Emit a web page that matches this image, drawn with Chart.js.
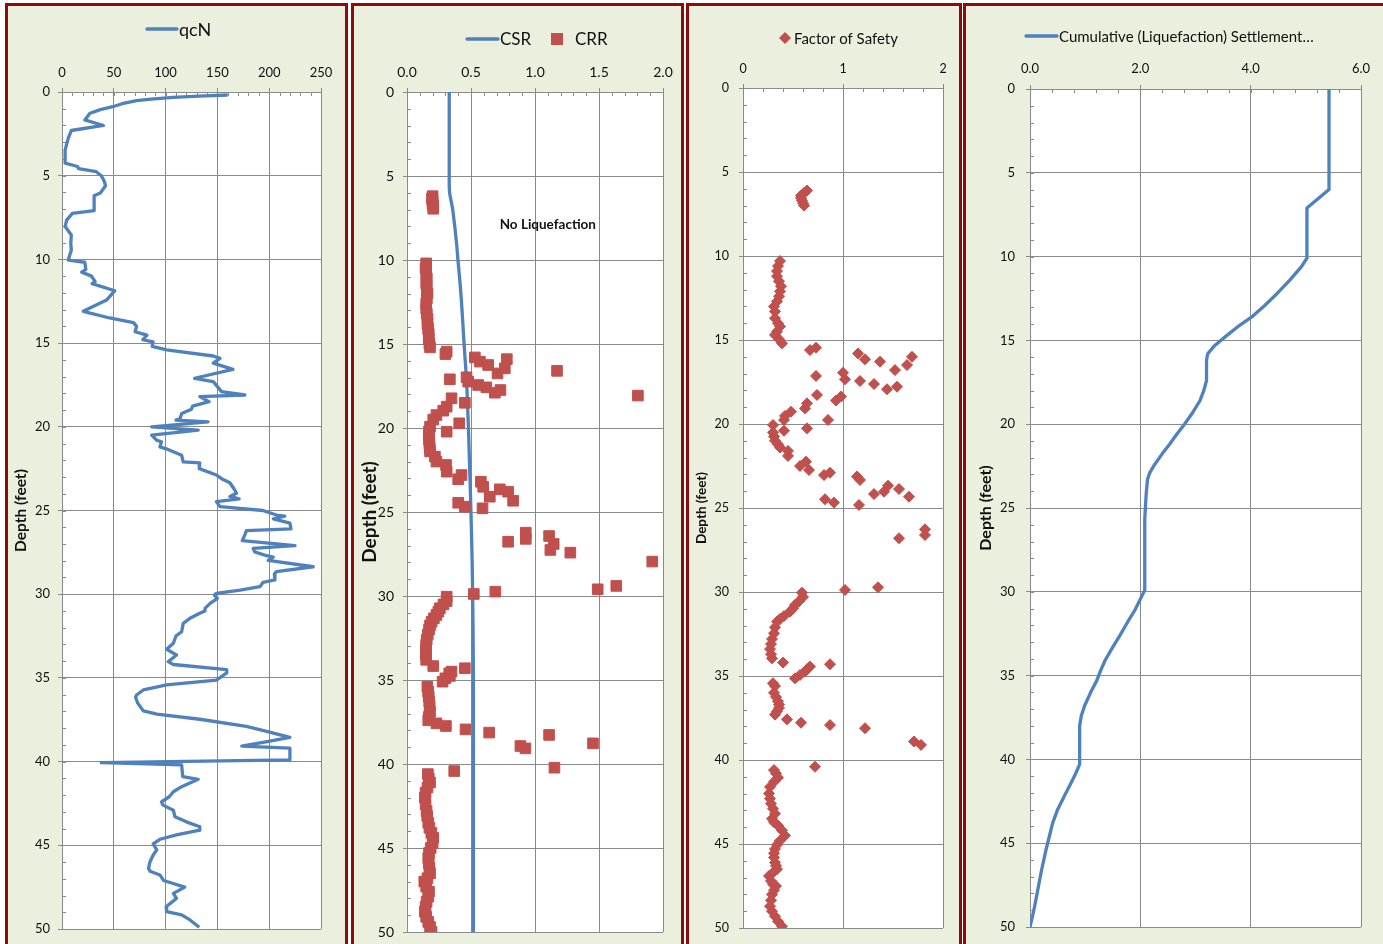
<!DOCTYPE html>
<html>
<head>
<meta charset="utf-8">
<title>CPT Liquefaction Analysis</title>
<script src="https://cdn.jsdelivr.net/npm/chart.js@4.4.0/dist/chart.umd.min.js"></script>
<style>
  html, body { margin: 0; padding: 0; background: #ffffff; width: 1383px; height: 944px; overflow: hidden; }
  .panel { position: absolute; top: 3px; height: 1000px; background: #EBEFDE; border: 3px solid #8E0B0B; box-sizing: border-box; }
  canvas { position: absolute; left: 0; top: 0; }
</style>
</head>
<body>
<div class="panel" style="left:5px; width:343px;"></div>
<div class="panel" style="left:351px; width:333px;"></div>
<div class="panel" style="left:686px; width:276px;"></div>
<div class="panel" style="left:963px; width:440px;"></div>
<canvas id="qcnChart" width="1383" height="944"></canvas>
<canvas id="csrChart" width="1383" height="944"></canvas>
<canvas id="fsChart" width="1383" height="944"></canvas>
<canvas id="settleChart" width="1383" height="944"></canvas>
<script>
// ---- Normalized cone resistance qcN ----
const qcnDepth = [0.18,0.25,0.32,0.42,0.52,0.70,0.88,1.05,1.27,1.67,2.00,2.30,2.77,3.46,4.25,4.45,4.58,4.76,5.00,5.36,5.60,6.04,6.20,7.09,7.25,7.65,8.04,8.54,9.04,9.44,10.04,10.17,10.60,10.76,11.00,11.33,11.45,11.87,12.43,13.10,13.50,13.78,14.00,14.32,14.52,14.80,14.92,15.20,15.41,15.77,15.91,16.20,16.57,17.10,17.30,17.90,18.10,18.20,18.50,18.76,18.95,19.20,19.50,19.60,19.70,20.00,20.20,20.50,20.80,20.90,21.20,21.30,21.70,22.10,22.15,22.50,22.88,23.10,23.34,23.70,23.97,24.16,24.30,24.47,24.77,25.00,25.27,25.33,25.50,25.75,26.10,26.20,26.46,26.80,27.10,27.26,27.47,27.70,27.78,27.98,28.36,28.65,28.80,29.15,29.30,29.55,29.75,29.95,30.05,30.25,30.55,30.85,31.00,31.14,31.44,31.74,32.24,32.50,32.93,33.29,33.63,34.03,34.20,34.50,34.70,35.13,35.42,35.72,36.02,36.15,36.50,36.97,37.17,37.47,37.90,38.20,38.55,38.80,39.07,39.20,39.90,40.06,40.20,40.90,41.06,41.50,41.80,42.10,42.40,42.60,42.90,43.29,43.60,43.89,44.10,44.38,44.64,44.92,45.28,45.58,45.98,46.38,46.55,46.77,47.10,47.50,47.87,48.17,48.67,48.96,49.16,49.46,49.90];
const qcnValue = [160,132,107,86,72,58,49,37,27,22,40,9,6,3,3,15,16,33,38,41,42,37,31,31,10,4.5,3,9,8.5,9,6,22,23,19,28.5,32,29,51,43,20.5,46,69,72,70.5,82,78,88,87,101,146,152.5,146,165,128,146,154,176.5,133,142,126,125,115.5,114,110,141,86.5,131.5,86.5,91.5,96,94.5,100,115.5,117,133,132.5,149,154,162,166,168.5,162,171,149,152.5,194,207,215,204,220,221,178,176.5,174,225,184.5,186,197.5,204,199,242.5,207,205,205.5,194,191,172,149,147,150,143,138,138,133,123.5,117,115.5,110,107.5,101,110.5,102.5,107.5,159,159,149,101,78.5,72,71,73,78.5,91.5,133,178,197.5,220,198,173.5,220,220,38,115.5,116.5,131.5,115.5,107.5,103.5,96,97.5,107.5,109,120,133,133,110.5,94.5,88,91.5,88,85,83.5,85,94.5,98,118.5,107.5,110.5,100.5,101,115.5,123.5,132.5];

// ---- Cyclic stress ratio (CSR) ----
const csrDepth = [0,2,4,5.5,6,6.5,7,8,9,10,11,12,13,14,15,16,17,18,19,20,22,24,26,28,30,32,34,36,40,45,50];
const csrValue = [0.33,0.33,0.33,0.33,0.333,0.345,0.357,0.373,0.387,0.398,0.41,0.421,0.43,0.438,0.446,0.455,0.464,0.47,0.475,0.48,0.488,0.496,0.503,0.509,0.513,0.516,0.518,0.519,0.519,0.519,0.519];

// ---- Cyclic resistance ratio (CRR) ----
const crrDepth = [6.2,6.35,6.5,6.65,6.8,6.95,10.2,10.5,10.8,11.1,11.4,11.7,12.0,12.3,12.6,12.9,13.2,13.5,13.8,14.1,14.4,14.7,15.0,15.2,15.45,15.6,15.8,16.05,16.25,15.9,16.45,16.75,16.6,17.1,16.98,17.24,17.44,17.58,17.9,17.74,18.07,18.23,18.5,18.73,18.97,19.23,19.5,19.72,19.92,20.22,20.2,20.45,20.7,20.95,21.2,21.4,21.7,22.0,22.2,22.6,22.8,23.05,23.2,23.5,23.65,23.79,24.09,24.33,24.45,24.68,24.78,26.23,26.6,26.77,26.43,26.9,27.26,27.42,27.95,29.6,29.4,29.74,29.88,30.04,30.3,30.5,30.73,30.93,31.13,31.33,31.53,31.75,32.0,32.3,32.6,32.9,33.2,33.5,33.8,34.17,34.3,34.5,34.6,34.76,34.9,35.1,35.4,35.7,36.0,36.3,36.6,36.9,37.2,37.4,37.58,37.74,37.94,38.13,38.27,38.93,39.07,38.77,40.42,40.22,40.6,40.85,41.1,41.4,41.7,42.0,42.4,42.8,43.1,43.5,43.8,44.1,44.4,44.7,45.0,45.3,45.6,45.9,46.2,46.5,46.8,47.0,47.3,47.6,47.9,48.2,48.5,48.8,49.1,49.4,49.7,50.0];
const crrValue = [0.2,0.195,0.2,0.2,0.205,0.205,0.15,0.145,0.15,0.155,0.15,0.155,0.16,0.155,0.15,0.15,0.155,0.16,0.16,0.165,0.17,0.17,0.175,0.18,0.31,0.3,0.53,0.57,0.634,0.78,0.764,0.707,1.172,0.335,0.465,0.478,0.556,0.62,0.686,0.73,1.804,0.348,0.452,0.31,0.283,0.23,0.205,0.408,0.18,0.31,0.172,0.17,0.172,0.175,0.178,0.18,0.218,0.23,0.305,0.31,0.426,0.4,0.577,0.595,0.725,0.79,0.647,0.829,0.4,0.452,0.59,0.928,0.928,0.79,1.11,1.146,1.12,1.276,1.916,1.49,1.635,0.69,0.522,0.31,0.31,0.285,0.257,0.245,0.23,0.21,0.192,0.18,0.172,0.162,0.154,0.15,0.148,0.148,0.15,0.205,0.452,0.348,0.33,0.335,0.3,0.278,0.159,0.165,0.17,0.174,0.177,0.18,0.17,0.166,0.23,0.304,0.457,0.642,1.11,0.886,0.925,1.453,0.369,1.152,0.163,0.17,0.18,0.16,0.145,0.14,0.145,0.153,0.158,0.166,0.175,0.19,0.205,0.2,0.185,0.172,0.166,0.17,0.175,0.18,0.16,0.135,0.15,0.172,0.165,0.153,0.145,0.14,0.15,0.166,0.18,0.192];

// ---- Factor of safety against liquefaction ----
const fsDepth = [6.1,6.25,6.4,6.55,6.7,6.85,7.0,10.3,10.6,10.9,11.2,11.5,11.8,12.1,12.4,12.7,13.0,13.3,13.7,14.0,14.2,14.5,14.7,14.95,15.2,15.46,15.6,15.8,16.15,16.29,16.0,16.49,16.79,16.95,17.34,17.14,17.44,17.62,17.93,17.78,18.27,18.37,18.6,18.77,19.07,19.27,19.52,19.76,19.76,20.06,20.4,20.26,20.5,20.75,21.0,21.2,21.4,21.6,21.9,22.5,22.24,22.74,23.04,22.9,23.13,23.33,24.17,24.03,23.67,23.87,24.33,24.48,24.68,24.82,26.27,26.61,26.8,29.72,29.88,30.04,30.3,30.55,30.77,30.97,31.17,31.43,31.6,31.77,32.1,32.46,32.8,33.1,33.4,33.7,33.95,34.2,34.3,34.44,34.6,34.74,34.94,35.14,35.43,35.6,36.0,36.25,36.5,36.7,36.9,37.1,37.3,37.58,37.78,37.92,38.11,38.9,39.1,40.4,40.6,40.8,41.05,41.3,41.6,42.0,42.3,42.6,42.9,43.2,43.5,43.7,43.9,44.2,44.5,44.8,45.05,45.3,45.55,45.8,46.1,46.3,46.5,46.7,46.9,47.2,47.4,47.5,47.75,48.0,48.35,48.7,49.0,49.3,49.6,49.9];
const fsValue = [0.64,0.61,0.58,0.58,0.59,0.6,0.61,0.37,0.35,0.34,0.34,0.36,0.38,0.37,0.36,0.34,0.31,0.32,0.32,0.35,0.37,0.34,0.32,0.36,0.39,0.73,0.67,1.15,1.22,1.37,1.69,1.64,1.52,1.0,1.02,0.73,1.17,1.31,1.44,1.54,0.74,0.98,0.93,0.64,0.62,0.48,0.42,0.41,0.85,0.3,0.41,0.64,0.3,0.31,0.32,0.35,0.37,0.45,0.45,0.57,0.63,0.66,0.81,0.87,1.14,1.17,1.31,1.41,1.45,1.56,1.66,0.82,0.91,1.16,1.82,1.82,1.56,1.35,1.02,0.59,0.6,0.56,0.52,0.5,0.47,0.41,0.37,0.34,0.32,0.31,0.29,0.28,0.27,0.28,0.29,0.4,0.87,0.67,0.64,0.62,0.57,0.52,0.3,0.32,0.31,0.33,0.35,0.36,0.36,0.34,0.32,0.44,0.58,0.87,1.22,1.71,1.78,0.72,0.31,0.33,0.35,0.31,0.27,0.26,0.27,0.28,0.3,0.32,0.29,0.31,0.35,0.39,0.42,0.37,0.34,0.32,0.31,0.31,0.32,0.33,0.34,0.3,0.26,0.28,0.3,0.33,0.31,0.29,0.28,0.27,0.29,0.32,0.35,0.39];

// ---- Cumulative liquefaction settlement ----
const settleDepth = [0,6.0,7.1,10.1,10.6,11.4,12.2,12.9,13.6,14.1,14.7,15.3,15.8,16.2,17.4,18.0,18.6,19.3,20.0,20.6,21.2,21.8,22.4,22.9,23.3,24.0,24.5,25.7,29.9,30.5,31.1,31.8,32.6,33.3,34.1,34.7,35.3,36.0,36.8,37.4,38.0,40.3,40.9,41.5,42.2,43.0,43.8,44.6,45.4,46.6,47.8,49.0,50.0];
const settleValue = [5.42,5.42,5.02,5.02,4.92,4.71,4.48,4.26,4.02,3.8,3.57,3.35,3.22,3.2,3.2,3.15,3.08,2.95,2.8,2.66,2.53,2.39,2.26,2.17,2.13,2.11,2.1,2.08,2.08,1.99,1.9,1.77,1.63,1.5,1.36,1.28,1.21,1.1,0.99,0.93,0.9,0.9,0.82,0.73,0.62,0.5,0.41,0.35,0.29,0.21,0.14,0.07,0.0];

const FONT = 'Lato, "Open Sans", sans-serif';
const GRID = '#8a8a8a';
const BLUE = '#4F81BD';
const RED = '#C0504D';
const INK = '#111111';

function pairs(xs, ys) { return xs.map((v, i) => ({ x: v, y: ys[i] })); }

// white plot area behind grid and data
const plotFill = {
  id: 'plotFill',
  beforeDraw(chart) {
    const a = chart.chartArea, ctx = chart.ctx;
    ctx.save();
    ctx.fillStyle = '#ffffff';
    ctx.fillRect(a.left, a.top, a.right - a.left, a.bottom - a.top);
    ctx.restore();
  }
};

// small inside minor tick marks along the top and left axes
const minorTicks = {
  id: 'minorTicks',
  beforeDatasetsDraw(chart, args, o) {
    const { ctx, chartArea: a, scales: { x, y } } = chart;
    ctx.save();
    ctx.strokeStyle = GRID;
    ctx.lineWidth = 1;
    ctx.beginPath();
    const nx = Math.round((x.max - x.min) / o.x);
    for (let i = 1; i < nx; i++) {
      const px = Math.round(x.getPixelForValue(x.min + i * o.x)) + 0.5;
      ctx.moveTo(px, a.top); ctx.lineTo(px, a.top + o.len);
    }
    const ny = Math.round((y.max - y.min) / o.y);
    for (let i = 1; i < ny; i++) {
      const py = Math.round(y.getPixelForValue(y.min + i * o.y)) + 0.5;
      ctx.moveTo(a.left, py); ctx.lineTo(a.left + o.len, py);
    }
    ctx.stroke();
    ctx.restore();
  }
};

// series key drawn above each panel
const seriesKey = {
  id: 'seriesKey',
  afterDraw(chart, args, o) {
    const ctx = chart.ctx;
    ctx.save();
    o.items.forEach(it => {
      const ds = chart.data.datasets[it.ds];
      if (it.kind === 'line') {
        ctx.strokeStyle = ds.borderColor;
        ctx.lineWidth = ds.borderWidth;
        ctx.lineCap = 'round';
        ctx.beginPath(); ctx.moveTo(it.x0, it.y); ctx.lineTo(it.x1, it.y); ctx.stroke();
      } else if (it.kind === 'rect') {
        ctx.fillStyle = ds.backgroundColor;
        ctx.fillRect(it.cx - it.s / 2, it.y - it.s / 2, it.s, it.s);
      } else {
        ctx.fillStyle = ds.backgroundColor;
        ctx.beginPath();
        ctx.moveTo(it.cx, it.y - it.s); ctx.lineTo(it.cx + it.s, it.y);
        ctx.lineTo(it.cx, it.y + it.s); ctx.lineTo(it.cx - it.s, it.y);
        ctx.closePath(); ctx.fill();
      }
      ctx.fillStyle = INK;
      ctx.font = it.size + 'px ' + FONT;
      ctx.textBaseline = 'middle';
      ctx.textAlign = 'left';
      ctx.fillText(ds.label, it.tx, it.y + 1);
    });
    ctx.restore();
  }
};

// free text placed in data coordinates
const plotNote = {
  id: 'plotNote',
  afterDatasetsDraw(chart, args, o) {
    if (!o.text) return;
    const { ctx, scales: { x, y } } = chart;
    ctx.save();
    ctx.fillStyle = INK;
    ctx.font = 'bold ' + o.size + 'px ' + FONT;
    ctx.textAlign = 'center';
    ctx.textBaseline = 'middle';
    ctx.fillText(o.text, x.getPixelForValue(o.x), y.getPixelForValue(o.y));
    ctx.restore();
  }
};

function depthChart(id, p) {
  return new Chart(document.getElementById(id), {
    type: 'scatter',
    data: { datasets: p.datasets },
    options: {
      responsive: false,
      animation: false,
      events: [],
      layout: { padding: p.pad },
      scales: {
        x: {
          type: 'linear', position: 'top', min: p.xMin, max: p.xMax,
          ticks: { stepSize: p.xStep, autoSkip: false, maxRotation: 0, color: INK,
                   font: { family: FONT, size: p.tickSize }, padding: p.xPad,
                   callback: v => p.fmt(v) },
          grid: { color: GRID, tickColor: GRID, tickLength: 4, lineWidth: 1 },
          border: { color: GRID, width: 1 },
          afterFit(s) { s.height = p.xH; s.paddingLeft = 0; s.paddingRight = 0; }
        },
        y: {
          type: 'linear', reverse: true, min: 0, max: 50,
          ticks: { stepSize: 5, autoSkip: false, color: INK,
                   font: { family: FONT, size: p.tickSize }, padding: p.yPad },
          title: { display: true, text: 'Depth (feet)', color: INK, padding: 0,
                   font: { family: FONT, size: p.titleSize, weight: 'bold' } },
          grid: { color: GRID, tickColor: GRID, tickLength: 4, lineWidth: 1 },
          border: { color: GRID, width: 1 },
          afterFit(s) { s.width = p.yW; s.paddingTop = 0; s.paddingBottom = 0; }
        }
      },
      plugins: {
        legend: { display: false },
        tooltip: { enabled: false },
        minorTicks: { x: p.xMinor, y: 1, len: 4 },
        seriesKey: { items: p.key },
        plotNote: p.note || {}
      }
    },
    plugins: [plotFill, minorTicks, seriesKey, plotNote]
  });
}

const lineStyle = { showLine: true, borderColor: BLUE, backgroundColor: BLUE, borderWidth: 3.3,
                    pointRadius: 0, tension: 0, fill: false, borderJoinStyle: 'round' };

depthChart('qcnChart', {
  datasets: [Object.assign({ label: 'qcN', data: pairs(qcnValue, qcnDepth) }, lineStyle)],
  pad: { left: 12, top: 40, right: 1062, bottom: 15 }, yW: 50, xH: 52,
  xMin: 0, xMax: 250, xStep: 50, xMinor: 10, fmt: v => String(v),
  tickSize: 13, xPad: 7, yPad: 8, titleSize: 15.5,
  key: [{ ds: 0, kind: 'line', x0: 147, x1: 177, y: 29, tx: 179, size: 18 }]
});

depthChart('csrChart', {
  datasets: [
    Object.assign({ label: 'CSR', data: pairs(csrValue, csrDepth), order: 1 }, lineStyle, { tension: 0.3 }),
    { label: 'CRR', data: pairs(crrValue, crrDepth), order: 0, showLine: false, pointStyle: 'rect',
      pointRadius: 7.5, backgroundColor: RED, borderColor: RED, borderWidth: 1 }
  ],
  pad: { left: 358, top: 40, right: 720, bottom: 12 }, yW: 49, xH: 52,
  xMin: 0, xMax: 2, xStep: 0.5, xMinor: 0.1, fmt: v => v.toFixed(1),
  tickSize: 14, xPad: 7, yPad: 9, titleSize: 19,
  key: [{ ds: 0, kind: 'line', x0: 467, x1: 498, y: 39, tx: 500, size: 17 },
        { ds: 1, kind: 'rect', cx: 557, s: 12, y: 39, tx: 575, size: 17 }],
  note: { text: 'No Liquefaction', x: 1.1, y: 7.9, size: 13.5 }
});

depthChart('fsChart', {
  datasets: [{ label: 'Factor of Safety', data: pairs(fsValue, fsDepth), showLine: false,
               pointStyle: 'rectRot', pointRadius: 5.5, backgroundColor: RED, borderColor: RED, borderWidth: 1 }],
  pad: { left: 694, top: 40, right: 440, bottom: 16 }, yW: 49, xH: 48,
  xMin: 0, xMax: 2, xStep: 1, xMinor: 0.2, fmt: v => String(v),
  tickSize: 12.5, xPad: 8, yPad: 10, titleSize: 13.5,
  key: [{ ds: 0, kind: 'diamond', cx: 785, s: 6, y: 38, tx: 794, size: 15 }]
});

depthChart('settleChart', {
  datasets: [Object.assign({ label: 'Cumulative (Liquefaction) Settlement\u2026', data: pairs(settleValue, settleDepth) }, lineStyle)],
  pad: { left: 976, top: 40, right: 22, bottom: 17 }, yW: 54, xH: 49,
  xMin: 0, xMax: 6, xStep: 2, xMinor: 0.4, fmt: v => v.toFixed(1),
  tickSize: 13, xPad: 8, yPad: 11, titleSize: 16,
  key: [{ ds: 0, kind: 'line', x0: 1026, x1: 1057, y: 36, tx: 1059, size: 15 }]
});
</script>
</body>
</html>
